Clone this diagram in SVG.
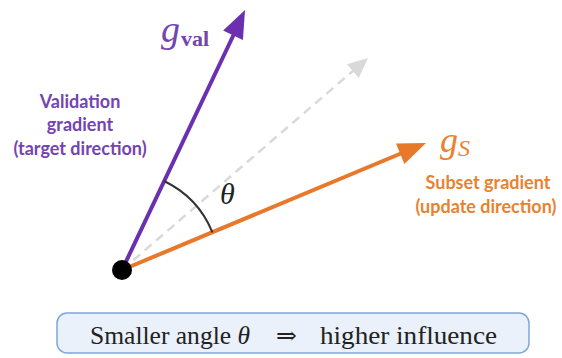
<svg xmlns="http://www.w3.org/2000/svg" width="562" height="358" viewBox="0 0 562 358">
<style>
.lbl{font-family:Lato,"Liberation Sans",sans-serif;font-weight:bold;font-size:18px;text-anchor:middle}
.pur{fill:#7444b0}
.org{fill:#e8822f}
.math{font-family:"Liberation Serif","DejaVu Serif",serif;font-style:italic}
</style>
<rect width="562" height="358" fill="#ffffff"/>
<g id="connectors">
<line id="ref-dir" x1="122" y1="270" x2="354" y2="70" stroke="#d9d9d9" stroke-width="2.5" stroke-dasharray="9,6"/>
<path d="M368,58 L358.8,77.9 L347,64.3 Z" fill="#d9d9d9"/>
<line id="g-val" x1="122" y1="270" x2="234" y2="34" stroke="#6a30b0" stroke-width="4"/>
<path d="M245,10 L242.9,40 L223.1,30.6 Z" fill="#6a30b0"/>
<line id="g-s" x1="122" y1="270" x2="402" y2="153" stroke="#e8782a" stroke-width="4"/>
<path d="M426,143 L404.4,164 L396,143.6 Z" fill="#e8782a"/>
<path id="arc" d="M164,181 A98,98 0 0 1 212.4,232.3" fill="none" stroke="#333" stroke-width="2"/>
</g>
<g id="origin"><circle cx="122" cy="270" r="10" fill="#000"/></g>
<g id="label-val">
<text class="math pur" x="161" y="42" font-size="38">g<tspan font-style="normal" font-weight="bold" font-size="22" dx="1" dy="4">val</tspan></text>
<text class="lbl pur" x="80" y="108">Validation</text>
<text class="lbl pur" x="80" y="131">gradient</text>
<text class="lbl pur" x="80" y="155">(target direction)</text>
</g>
<g id="label-s">
<text class="math org" x="440" y="152" font-size="36">g<tspan font-size="24" dy="4">S</tspan></text>
<text class="lbl org" x="488" y="189">Subset gradient</text>
<text class="lbl org" x="486" y="213">(update direction)</text>
</g>
<g id="theta"><text class="math" x="220" y="204" font-size="30" fill="#222">θ</text></g>
<g id="note">
<rect x="57" y="313" width="472" height="40" rx="10" fill="#eaf1fb" stroke="#7fa6d9" stroke-width="1.5"/>
<g font-family="'Liberation Serif','DejaVu Serif',serif" font-size="25" fill="#222">
<text x="90" y="344" textLength="160" lengthAdjust="spacingAndGlyphs">Smaller angle <tspan font-style="italic">θ</tspan></text>
<text x="276" y="344">⇒</text>
<text x="320" y="344" textLength="177" lengthAdjust="spacingAndGlyphs">higher influence</text>
</g>
</g>
</svg>
